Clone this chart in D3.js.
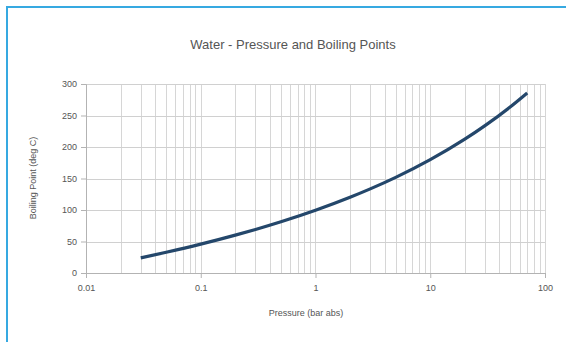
<!doctype html>
<html lang="en">
<head>
    <meta charset="utf-8">
    <title>Water - Pressure and Boiling Points</title>
    <script src="https://cdnjs.cloudflare.com/ajax/libs/d3/7.8.5/d3.min.js"></script>
    <style>
        html, body { margin: 0; padding: 0; background: #fff; }
        #chart text { font-family: "Liberation Sans", Arial, sans-serif; fill: #555; }
    </style>
</head>
<body>
    <div id="chart"></div>
    <script>
        // pressure (bar abs) and boiling point (deg C)
        var pressure = [0.03, 0.05, 0.1, 0.2, 0.3, 0.5, 1, 2, 3, 5, 10, 20, 30, 50, 70];
        var boiling = [24.1, 32.9, 45.8, 60.1, 69.1, 81.3, 99.6, 120.2, 133.5, 151.8, 179.9, 212.4, 233.9, 263.9, 285.8];
        var xTicks = [0.01, 0.1, 1, 10, 100];
        var yTicks = [0, 50, 100, 150, 200, 250, 300];

        var width = 566, height = 342;
        // plot area (note: "top" is taken by window.top, so use other names)
        var plotLeft = 86, plotRight = 545, plotTop = 84, plotBottom = 273;

        var svg = d3.select("#chart").append("svg")
            .attr("width", width)
            .attr("height", height);

        // blue frame round the page
        svg.append("path")
            .attr("d", "M7," + height + "V7H" + width)
            .attr("fill", "none")
            .attr("stroke", "#36a9e1")
            .attr("stroke-width", 2);

        var x = d3.scaleLog().domain([0.01, 100]).range([plotLeft, plotRight]);
        var y = d3.scaleLinear().domain([0, 300]).range([plotBottom, plotTop]);

        // minor grid: 1..9 in every decade
        var minor = [];
        for (var d = 0.01; d < 100; d *= 10) {
            for (var k = 1; k <= 9; k++) minor.push(+(d * k).toPrecision(3));
        }
        minor.push(100);

        svg.append("g").selectAll("line")
            .data(minor)
            .enter().append("line")
            .attr("x1", function(d) { return Math.round(x(d)) + 0.5; })
            .attr("x2", function(d) { return Math.round(x(d)) + 0.5; })
            .attr("y1", plotTop)
            .attr("y2", plotBottom)
            .attr("stroke", "#d6d6d6")
            .attr("stroke-width", 1);

        svg.append("g").selectAll("line")
            .data(yTicks)
            .enter().append("line")
            .attr("x1", plotLeft)
            .attr("x2", plotRight)
            .attr("y1", function(d) { return Math.round(y(d)) + 0.5; })
            .attr("y2", function(d) { return Math.round(y(d)) + 0.5; })
            .attr("stroke", "#d0d0d0")
            .attr("stroke-width", 1);

        // axes
        var yAxis = svg.append("g")
            .attr("transform", "translate(" + plotLeft + ",0)")
            .call(d3.axisLeft(y).tickValues(yTicks).tickSize(5).tickPadding(4).tickFormat(d3.format("d")));
        var xAxis = svg.append("g")
            .attr("transform", "translate(0," + plotBottom + ")")
            .call(d3.axisBottom(x).tickValues(xTicks).tickSize(5).tickPadding(7).tickFormat(function(d) { return String(d); }));

        [xAxis, yAxis].forEach(function(a) {
            a.select(".domain").attr("stroke", "#b3b3b3");
            a.selectAll(".tick line").attr("stroke", "#b3b3b3");
            a.selectAll(".tick text").attr("font-size", 9).attr("fill", "#555");
        });

        // the curve
        var line = d3.line()
            .x(function(d, i) { return x(pressure[i]); })
            .y(function(d) { return y(d); })
            .curve(d3.curveMonotoneX);

        svg.append("path")
            .datum(boiling)
            .attr("d", line)
            .attr("fill", "none")
            .attr("stroke", "#24476b")
            .attr("stroke-width", 3.2)
            .attr("stroke-linecap", "butt");

        // titles
        svg.append("text")
            .attr("x", 293)
            .attr("y", 49)
            .attr("text-anchor", "middle")
            .attr("font-size", 13)
            .text("Water - Pressure and Boiling Points");

        svg.append("text")
            .attr("x", 306)
            .attr("y", 316)
            .attr("text-anchor", "middle")
            .attr("font-size", 9)
            .text("Pressure (bar abs)");

        svg.append("text")
            .attr("transform", "translate(36,178) rotate(-90)")
            .attr("text-anchor", "middle")
            .attr("font-size", 9)
            .text("Boiling Point (deg C)");
    </script>
</body>
</html>
